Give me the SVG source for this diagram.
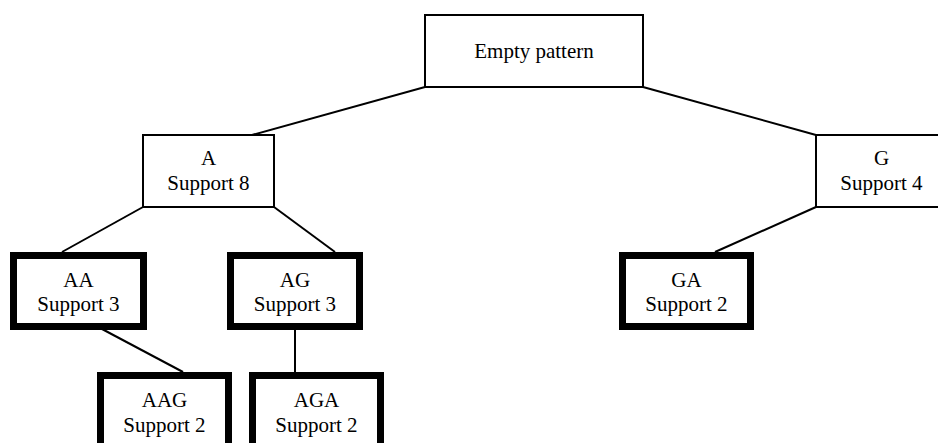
<svg xmlns="http://www.w3.org/2000/svg" width="938" height="443" viewBox="0 0 938 443">
  <style>
    .box { fill: #fff; stroke: #000; stroke-width: 2; }
    .bold { fill: #fff; stroke: #000; stroke-width: 7; }
    .edge { stroke: #000; stroke-width: 2; fill: none; }
    text { font-family: "Liberation Serif", "Times New Roman", serif; font-size: 21px; fill: #000; text-anchor: middle; }
  </style>
  <rect width="938" height="443" fill="#fff"/>
  <g id="connectors">
    <line class="edge" x1="425" y1="87" x2="252" y2="135"/>
    <line class="edge" x1="643" y1="87" x2="816" y2="135"/>
    <line class="edge" x1="143" y1="207" x2="62" y2="252"/>
    <line class="edge" x1="274" y1="207" x2="335" y2="252"/>
    <line class="edge" x1="102" y1="329" x2="183" y2="372"/>
    <line class="edge" x1="295" y1="329" x2="295" y2="372"/>
    <line class="edge" x1="816" y1="207" x2="715" y2="252"/>
  </g>
  <g id="root">
    <rect class="box" x="425" y="15" width="218" height="72"/>
    <text x="534" y="58">Empty pattern</text>
  </g>
  <g id="node-A">
    <rect class="box" x="143" y="135" width="131" height="72"/>
    <text x="208.5" y="165">A</text>
    <text x="208.5" y="190">Support 8</text>
  </g>
  <g id="node-G">
    <rect class="box" x="816" y="135" width="131" height="72"/>
    <text x="881.5" y="165">G</text>
    <text x="881.5" y="190">Support 4</text>
  </g>
  <g id="node-AA">
    <rect class="bold" x="13.5" y="255.5" width="130" height="71"/>
    <text x="78.5" y="287">AA</text>
    <text x="78.5" y="311">Support 3</text>
  </g>
  <g id="node-AG">
    <rect class="bold" x="230.5" y="255.5" width="129" height="71"/>
    <text x="295" y="287">AG</text>
    <text x="295" y="311">Support 3</text>
  </g>
  <g id="node-GA">
    <rect class="bold" x="622.5" y="255.5" width="128" height="71"/>
    <text x="686.5" y="287">GA</text>
    <text x="686.5" y="311">Support 2</text>
  </g>
  <g id="node-AAG">
    <rect class="bold" x="100.5" y="375.5" width="128" height="80"/>
    <text x="164.5" y="407">AAG</text>
    <text x="164.5" y="432">Support 2</text>
  </g>
  <g id="node-AGA">
    <rect class="bold" x="252.5" y="375.5" width="128" height="80"/>
    <text x="316.5" y="407">AGA</text>
    <text x="316.5" y="432">Support 2</text>
  </g>
</svg>
